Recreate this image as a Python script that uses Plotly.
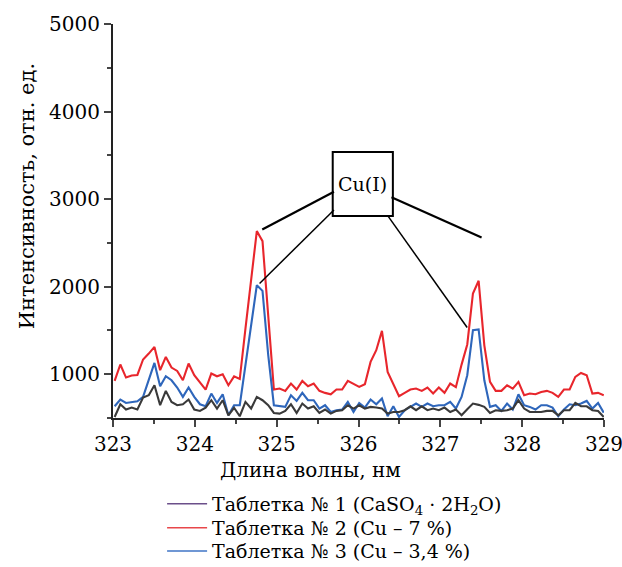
import numpy as np
import plotly.graph_objects as go

# wavelength sampling (nm)
x_start = 323.02
x_step = 0.0695
n_pts = 87
wavelength = [round(x_start + i * x_step, 4) for i in range(n_pts)]

tab1 = [512, 657, 597, 619, 597, 733, 760, 874, 646, 810, 684, 646, 657, 711, 597, 581, 619, 703, 608, 703,
        531, 617, 520, 684, 608, 741, 703, 646, 558, 550, 581, 657, 558, 665, 608, 634, 558, 597, 550, 581,
        589, 646, 608, 646, 608, 627, 619, 608, 550, 569, 569, 589, 634, 589, 634, 589, 608, 589, 619, 569,
        597, 531, 600, 665, 650, 627, 558, 589, 581, 589, 608, 703, 608, 569, 569, 569, 581, 581, 531, 589,
        589, 672, 634, 634, 589, 581, 512]

tab2 = [923, 1111, 962, 985, 992, 1168, 1236, 1312, 1046, 1198, 1076, 1038, 931, 1122, 989, 912, 825, 1008, 977, 1000,
        874, 975, 945, 1520, 2090, 2635, 2520, 1690, 825, 836, 810, 894, 825, 924, 863, 894, 810, 787, 771, 825,
        825, 924, 886, 855, 885, 1141, 1274, 1495, 1027, 894, 749, 787, 825, 836, 810, 848, 779, 848, 787, 894,
        852, 1110, 1340, 1922, 2067, 1330, 912, 810, 810, 874, 836, 912, 760, 779, 771, 798, 810, 787, 741, 825,
        825, 969, 1015, 989, 779, 787, 760]

tab3 = [634, 711, 672, 684, 691, 741, 931, 1129, 863, 977, 931, 848, 741, 848, 741, 657, 634, 779, 672, 771,
        531, 645, 646, 1120, 1580, 2017, 1952, 1220, 646, 634, 627, 760, 695, 787, 703, 703, 608, 646, 569, 589,
        597, 684, 569, 672, 619, 711, 657, 722, 520, 634, 512, 589, 627, 665, 627, 665, 634, 646, 646, 684,
        608, 741, 989, 1503, 1511, 931, 627, 646, 581, 665, 597, 771, 646, 627, 597, 646, 646, 619, 520, 597,
        657, 646, 665, 695, 608, 672, 560]

legend_names = ["Таблетка № 1 (CaSO<sub>4</sub> · 2H<sub>2</sub>O)",
                "Таблетка № 2 (Cu – 7 %)",
                "Таблетка № 3 (Cu – 3,4 %)"]
x_ticks = [323, 324, 325, 326, 327, 328, 329]
y_ticks = [1000, 2000, 3000, 4000, 5000]
x_title = "Длина волны, нм"
y_title = "Интенсивность, отн. ед."

FONT = "DejaVu Serif"
fig = go.Figure()

fig.add_trace(go.Scatter(x=wavelength, y=tab2, mode="lines", line=dict(color="#e8262c", width=2.1), showlegend=False))
fig.add_trace(go.Scatter(x=wavelength, y=tab3, mode="lines", line=dict(color="#2e66bb", width=2.1), showlegend=False))
fig.add_trace(go.Scatter(x=wavelength, y=tab1, mode="lines", line=dict(color="#3a3a3a", width=2.1), showlegend=False))

legend_colors = ["#6b4f8a", "#e8474a", "#3f74c6"]
legend_ids = ["legend", "legend2", "legend3"]
legend_rows_y = [-0.218, -0.279, -0.338]
for name, col, lid in zip(legend_names, legend_colors, legend_ids):
    fig.add_trace(go.Scatter(x=[None], y=[None], mode="lines", name=name, legend=lid,
                             line=dict(color=col, width=1.6), showlegend=True))

# Cu(I) label box and leader lines
fig.add_shape(type="rect", x0=325.685, x1=326.42, y0=2806, y1=3537,
              line=dict(color="black", width=2), fillcolor="white")
fig.add_annotation(x=326.05, y=3172, text="Cu(I)", showarrow=False,
                   font=dict(family=FONT, size=19, color="black"))
leaders = [((325.700, 3084), (324.824, 2654), 2.2),
           ((325.700, 2875), (324.791, 2037), 1.5),
           ((326.403, 3020), (327.504, 2562), 2.2),
           ((326.361, 2806), (327.328, 1534), 1.5)]
for (xa, ya), (xb, yb), w in leaders:
    fig.add_shape(type="line", x0=xa, y0=ya, x1=xb, y1=yb, line=dict(color="black", width=w))

# axis titles (offset as in the original layout)
fig.add_annotation(xref="paper", yref="paper", x=0.403, y=-0.132, text=x_title, showarrow=False,
                   xanchor="center", yanchor="middle", font=dict(family=FONT, size=20, color="black"))
fig.add_annotation(xref="paper", yref="paper", x=-0.175, y=0.563, text=y_title, showarrow=False,
                   textangle=-90, xanchor="center", yanchor="middle",
                   font=dict(family=FONT, size=21, color="black"))

legend_common = dict(x=0.1, xanchor="left", yanchor="middle",
                     font=dict(family=FONT, size=19, color="black"),
                     bgcolor="rgba(0,0,0,0)", itemwidth=40)
fig.update_layout(
    width=622, height=567,
    margin=dict(l=113, r=18, t=24, b=149, autoexpand=False),
    paper_bgcolor="white", plot_bgcolor="white",
    font=dict(family=FONT, color="black"),
    showlegend=True,
    legend=dict(y=legend_rows_y[0], **legend_common),
    legend2=dict(y=legend_rows_y[1], **legend_common),
    legend3=dict(y=legend_rows_y[2], **legend_common),
)
fig.update_xaxes(range=[323, 329], tickvals=x_ticks, ticks="outside", ticklen=7, tickwidth=1.5,
                 showline=True, linecolor="#222", linewidth=2, showgrid=False, zeroline=False,
                 ticklabeloverflow="allow",
                 tickfont=dict(family=FONT, size=20, color="black"),
                 minor=dict(dtick=0.5, ticks="outside", ticklen=4, tickwidth=1.5, showgrid=False))
fig.update_yaxes(range=[500, 5000], tickvals=y_ticks, ticks="outside", ticklen=7, tickwidth=1.5,
                 showline=True, linecolor="#222", linewidth=2, showgrid=False, zeroline=False,
                 tickfont=dict(family=FONT, size=20, color="black"),
                 minor=dict(tickvals=[500, 1500, 2500, 3500, 4500], ticks="outside", ticklen=4, tickwidth=1.5, showgrid=False))

fig.write_html("out.html")
